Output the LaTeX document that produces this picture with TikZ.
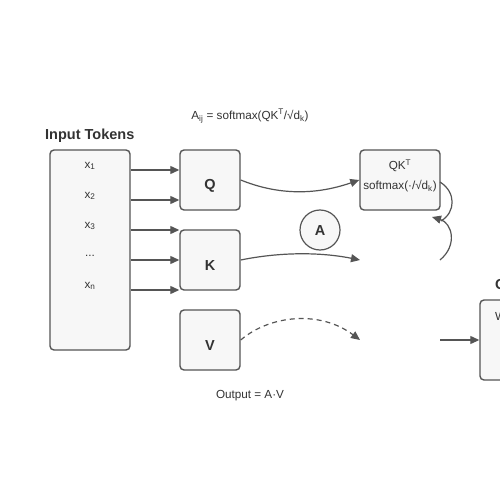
\documentclass[tikz,border=0pt]{standalone}
\usepackage{fontspec}
\setmainfont{Liberation Sans}
\usetikzlibrary{arrows.meta}
\definecolor{strk}{HTML}{555555}
\definecolor{boxfill}{HTML}{F7F7F7}
\definecolor{txt}{HTML}{333333}
\tikzset{
  blk/.style={draw=strk, line width=1.4pt, fill=boxfill, rounded corners=4pt, inner sep=0pt},
  lbl/.style={text=txt, font=\fontsize{11.7}{13}\selectfont, inner sep=0pt},
  big/.style={text=txt, font=\fontsize{14.5}{16}\selectfont\bfseries, inner sep=0pt},
  conn/.style={draw=strk, line width=1.2pt, -{Triangle[length=9pt,width=8pt]}},
  plain/.style={draw=strk, line width=1.2pt},
}
\begin{document}
\begin{tikzpicture}[x=1pt,y=-1pt]
\useasboundingbox (0,0) rectangle (500,500);
\clip (0,0) rectangle (500,500);
\fill[white] (0,0) rectangle (500,500);
% boxes
\node[blk, minimum width=80pt, minimum height=200pt] (in) at (90,250) {};
\node[blk, minimum width=60pt, minimum height=60pt] (q) at (210,180) {};
\node[blk, minimum width=60pt, minimum height=60pt] (k) at (210,260) {};
\node[blk, minimum width=60pt, minimum height=60pt] (v) at (210,340) {};
\node[blk, minimum width=80pt, minimum height=60pt] (qk) at (400,180) {};
\node[blk, minimum width=80pt, minimum height=80pt] (out) at (520,340) {};
\node[draw=strk, line width=1.2pt, fill=boxfill, circle, minimum size=40pt, inner sep=0pt] (a) at (320,230) {};
% labels
\node[big, anchor=west] (tin) at (45,135.5) {Input Tokens};
\node[big, anchor=west] (tout) at (495,285.5) {Output};
\node[lbl] (x1) at (90,166) {x\textsubscript{1}};
\node[lbl] (x2) at (90,196) {x\textsubscript{2}};
\node[lbl] (x3) at (90,226) {x\textsubscript{3}};
\node[lbl] (xd) at (90,256) {...};
\node[lbl] (xn) at (90,286) {x\textsubscript{n}};
\node[big] (ql) at (210,185.5) {Q};
\node[big] (kl) at (210,265.5) {K};
\node[big] (vl) at (210,345.5) {V};
\node[big] (al) at (320,230.5) {A};
\node[lbl] (qk1) at (400,166) {QK\textsuperscript{T}};
\node[lbl] (qk2) at (400,186) {softmax(·/√d\textsubscript{k})};
\node[lbl, anchor=west] (wl) at (495,316) {W};
\node[lbl] (f1) at (250,116) {A\textsubscript{ij} = softmax(QK\textsuperscript{T}/√d\textsubscript{k})};
\node[lbl] (f2) at (250,396) {Output = A·V};
% coordinates
\coordinate (ke) at (360,260);
\coordinate (ve) at (360,340);
\coordinate (r1) at (440,182);
\coordinate (r2) at (441,221);
\coordinate (r2b) at (432,217);
\coordinate (r3) at (440,260);
\coordinate (os) at (440,340);
% input arrows
\foreach \y/\t in {170/q,200/q,230/k,260/k,290/k}{
  \draw[conn] (in.east |- 0,\y) -- (\t.west |- 0,\y);
}
% curves
\draw[conn] (q.east) .. controls (290,200) and (330,190) .. (qk.west);
\draw[conn] (k.east) .. controls (280,252) and (320,252) .. (ke);
\draw[conn, dashed, dash pattern=on 5pt off 4pt] (v.east) .. controls (270,315) and (320,310) .. (ve);
\draw[plain] (r1) .. controls (456,192) and (456,212) .. (r2);
\draw[conn] (r3) .. controls (458,245) and (452,223) .. (r2b);
\draw[conn] (os) -- (out.west);
\end{tikzpicture}
\end{document}
